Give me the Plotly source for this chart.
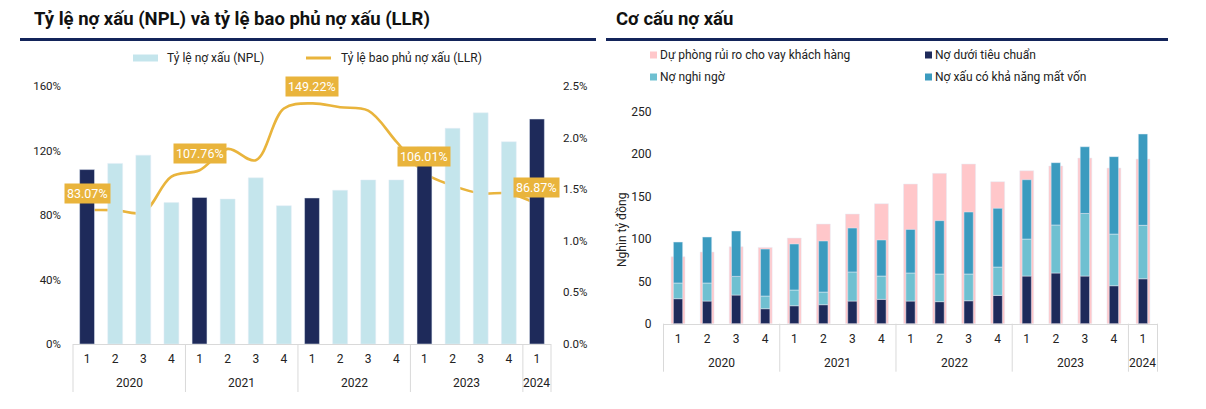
import plotly.graph_objects as go

# page body has an 8px default margin -> figure drawn 8px in from top/left
OFF = 8
W, H = 1206 - OFF, 409 - OFF

# ---------------- data ----------------
years = ["2020"] * 4 + ["2021"] * 4 + ["2022"] * 4 + ["2023"] * 4 + ["2024"]
quarters = ["1", "2", "3", "4"] * 4 + ["1"]

npl = [1.69, 1.75, 1.83, 1.37, 1.42, 1.405, 1.61, 1.34, 1.415, 1.49, 1.59, 1.59,
       1.91, 2.09, 2.24, 1.96, 2.18]
llr = [83.07, 83.0, 81.7, 103.8, 107.76, 121.0, 114.0, 146.0, 149.22, 146.8, 144.7,
       125.5, 106.01, 98.2, 93.4, 93.4, 86.87]

provision = [79, 84.5, 90.8, 90, 101, 117.5, 129.3, 141.5, 164.7, 177.3, 188.3, 167.5,
             180.4, 186, 195.4, 183.6, 194.2]
substandard = [29.5, 26.7, 33.8, 17.7, 21.2, 22.4, 26.7, 28.7, 26.7, 26.0, 27.1, 33.4,
               56.2, 59.8, 56.2, 44.8, 53.0]
doubtful = [18.5, 21.3, 22.0, 14.9, 18.5, 14.9, 34.3, 27.5, 33.1, 32.6, 31.5, 33.4,
            43.6, 56.6, 73.8, 60.9, 63.0]
loss = [48.3, 54.2, 53.5, 55.4, 54.3, 60.2, 51.8, 42.5, 51.4, 62.9, 73.1, 69.2,
        70.0, 73.5, 78.7, 91.3, 107.7]

left_ticks = [0, 40, 80, 120, 160]
right_ticks = [0, 0.5, 1.0, 1.5, 2.0, 2.5]
stack_ticks = [0, 50, 100, 150, 200, 250]

NAME_NPL = "Tỷ lệ nợ xấu (NPL)"
NAME_LLR = "Tỷ lệ bao phủ nợ xấu (LLR)"
NAME_PROV = "Dự phòng rủi ro cho vay khách hàng"
NAME_SUB = "Nợ dưới tiêu chuẩn"
NAME_DOUBT = "Nợ nghi ngờ"
NAME_LOSS = "Nợ xấu có khả năng mất vốn"

# ---------------- styles ----------------
NAVY = "#1E2A5A"
LIGHT = "#C4E5EC"
GOLD = "#E9B43C"
PINK = "#FFC7CA"
TEAL = "#6FC0D1"
BLUE = "#3B9BBF"
TXT = "#222222"
GRID = "#D9D9D9"
FONT = "Roboto"


def px(v):
    return (v - OFF) / W


def py(v):
    return 1 - (v - OFF) / H


keys = [f"{y}-Q{q}" for y, q in zip(years, quarters)]
n = len(keys)
is_q1 = [q == "1" for q in quarters]

fig = go.Figure()

# ---- left chart ----
fig.add_trace(go.Bar(x=keys, y=[None if f else v for v, f in zip(npl, is_q1)],
                     marker_color=LIGHT, width=0.53, yaxis="y2", xaxis="x", name=NAME_NPL))
fig.add_trace(go.Bar(x=keys, y=[v if f else None for v, f in zip(npl, is_q1)],
                     marker_color=NAVY, width=0.53, yaxis="y2", xaxis="x", name=NAME_NPL))
fig.add_trace(go.Scatter(x=keys, y=llr, mode="lines",
                         line=dict(color=GOLD, width=2.6, shape="spline", smoothing=1.0),
                         xaxis="x", yaxis="y", name=NAME_LLR))

# ---- right chart ----
base_d = substandard
base_l = [a + b for a, b in zip(substandard, doubtful)]
fig.add_trace(go.Bar(x=keys, y=provision, marker_color=PINK, width=0.48, xaxis="x2", yaxis="y3", name=NAME_PROV))
fig.add_trace(go.Bar(x=keys, y=substandard, marker_color=NAVY, width=0.32, xaxis="x2", yaxis="y3", name=NAME_SUB))
fig.add_trace(go.Bar(x=keys, y=doubtful, base=base_d, marker_color=TEAL, width=0.32, xaxis="x2", yaxis="y3",
                     name=NAME_DOUBT))
fig.add_trace(go.Bar(x=keys, y=loss, base=base_l, marker_color=BLUE, width=0.32, xaxis="x2", yaxis="y3",
                     name=NAME_LOSS))

LX = [px(73), px(551)]
LY = [py(344), py(86)]
RX = [px(663.5), px(1157.5)]
RY = [py(323.7), py(111.7)]
L_AXIS_Y, R_AXIS_Y = 344, 323.7

xax = dict(type="category", tickvals=keys, ticktext=quarters, showline=True, linecolor=GRID, linewidth=1,
           showgrid=False, ticks="", tickfont=dict(family=FONT, size=12, color=TXT), zeroline=False,
           automargin=False, ticklabelstandoff=4)

fig.update_layout(
    width=W, height=H, margin=dict(l=0, r=0, t=0, b=0, autoexpand=False),
    paper_bgcolor="white", plot_bgcolor="white", barmode="overlay", showlegend=False,
    font=dict(family=FONT, color=TXT),
    xaxis=dict(domain=LX, anchor="y", **xax),
    yaxis=dict(domain=LY, range=[0, 160], tickvals=left_ticks, automargin=False,
               ticktext=[f"{v}%" for v in left_ticks], showgrid=False, zeroline=False,
               tickfont=dict(family=FONT, size=11.5, color=TXT), ticklabelstandoff=11),
    yaxis2=dict(overlaying="y", side="right", anchor="x", range=[0, 2.5], tickvals=right_ticks,
                ticktext=[f"{v:.1f}%" for v in right_ticks], showgrid=False, zeroline=False,
                automargin=False,
                tickfont=dict(family=FONT, size=11.5, color=TXT), ticklabelstandoff=11),
    xaxis2=dict(domain=RX, anchor="y3", **xax),
    yaxis3=dict(domain=RY, anchor="x2", range=[0, 250], tickvals=stack_ticks, showgrid=False,
                zeroline=False, automargin=False,
                tickfont=dict(family=FONT, size=12, color=TXT), ticklabelstandoff=11),
)

ann = []
shapes = []
# titles
ann.append(dict(text="<b>Tỷ lệ nợ xấu (NPL) và tỷ lệ bao phủ nợ xấu (LLR)</b>", x=px(32), y=py(19),
                xref="paper", yref="paper", xanchor="left", yanchor="middle", showarrow=False,
                font=dict(family=FONT, size=18.5, color="#111111")))
ann.append(dict(text="<b>Cơ cấu nợ xấu</b>", x=px(614), y=py(19),
                xref="paper", yref="paper", xanchor="left", yanchor="middle", showarrow=False,
                font=dict(family=FONT, size=18.5, color="#111111")))
ann.append(dict(text="Nghìn tỷ đồng", x=px(622), y=py(230), xref="paper", yref="paper",
                textangle=-90, showarrow=False, xanchor="center", yanchor="middle",
                font=dict(family=FONT, size=12, color=TXT)))

# title rules
for x0, x1 in [(20, 596), (606, 1168)]:
    shapes.append(dict(type="line", xref="paper", yref="paper", x0=px(x0), x1=px(x1),
                       y0=py(39.5), y1=py(39.5), line=dict(color="#13245A", width=3)))

# left legend
shapes.append(dict(type="rect", xref="paper", yref="paper", x0=px(133), x1=px(158), y0=py(61.5), y1=py(54.5),
                   fillcolor=LIGHT, line=dict(width=0)))
ann.append(dict(text=NAME_NPL, x=px(165), y=py(58), xref="paper", yref="paper", xanchor="left",
                yanchor="middle", showarrow=False, font=dict(family=FONT, size=12, color=TXT)))
shapes.append(dict(type="line", xref="paper", yref="paper", x0=px(306), x1=px(331), y0=py(58), y1=py(58),
                   line=dict(color=GOLD, width=3)))
ann.append(dict(text=NAME_LLR, x=px(339), y=py(58), xref="paper", yref="paper", xanchor="left",
                yanchor="middle", showarrow=False, font=dict(family=FONT, size=12, color=TXT)))

# right legend (2 columns)
for (nm, col), (cx, cy) in zip([(NAME_PROV, PINK), (NAME_SUB, NAVY), (NAME_DOUBT, TEAL), (NAME_LOSS, BLUE)],
                               [(653.5, 55), (928.5, 55), (653.5, 77), (928.5, 77)]):
    shapes.append(dict(type="rect", xref="paper", yref="paper", x0=px(cx - 3.5), x1=px(cx + 3.5),
                       y0=py(cy + 3.5), y1=py(cy - 3.5), fillcolor=col, line=dict(width=0)))
    ann.append(dict(text=nm, x=px(cx + 4.5), y=py(cy), xref="paper", yref="paper", xanchor="left",
                    yanchor="middle", showarrow=False, font=dict(family=FONT, size=12, color=TXT)))

# year group labels and dividers under both x axes
groups = []
for i, yv in enumerate(years):
    if i == 0 or years[i - 1] != yv:
        groups.append([yv, i, i + 1])
    else:
        groups[-1][2] = i + 1
for dom, axis_y in [(LX, L_AXIS_Y), (RX, R_AXIS_Y)]:
    def cx(idx):
        return dom[0] + idx / n * (dom[1] - dom[0])
    bounds = sorted({g[1] for g in groups} | {g[2] for g in groups})
    for b in bounds:
        shapes.append(dict(type="line", xref="paper", yref="paper", x0=cx(b), x1=cx(b),
                           y0=py(axis_y), y1=py(axis_y + 48), line=dict(color=GRID, width=1)))
    for yv, s, e in groups:
        ann.append(dict(text=yv, x=cx((s + e) / 2), y=py(axis_y + 39), xref="paper", yref="paper",
                        xanchor="center", yanchor="middle", showarrow=False,
                        font=dict(family=FONT, size=12, color=TXT)))

# LLR data labels at Q1 of each year
for i, (q, v) in enumerate(zip(quarters, llr)):
    if q == "1":
        xp = LX[0] + (i + 0.5) / n * (LX[1] - LX[0])
        ann.append(dict(text=f"{v:.2f}%", x=xp, y=v, xref="paper", yref="y", showarrow=False,
                        xanchor="center", yanchor="bottom", yshift=6, bgcolor=GOLD, borderpad=2,
                        font=dict(family=FONT, size=12.5, color="white")))

fig.update_layout(annotations=ann, shapes=shapes)

fig.write_html("out.html")
